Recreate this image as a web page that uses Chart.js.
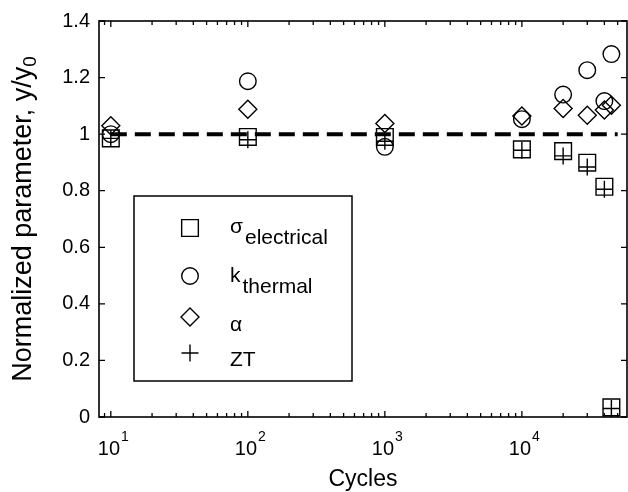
<!DOCTYPE html>
<html>
<head>
<meta charset="utf-8">
<script src="https://cdn.jsdelivr.net/npm/chart.js@4"></script>
<style>
  html, body { margin: 0; padding: 0; background: #fff; }
  canvas { display: block; }
</style>
</head>
<body>
<canvas id="chart" width="628" height="492"></canvas>
<script>
// values
const cycles = [10, 100, 1000, 10000, 20000, 30000, 40000, 45000];
const sigmaElectrical = [0.985, 0.99, 0.99, 0.946, 0.94, 0.899, 0.814, 0.034];
const kThermal = [1.0, 1.187, 0.955, 1.053, 1.14, 1.226, 1.117, 1.283];
const alphaSeebeck = [1.03, 1.088, 1.038, 1.064, 1.091, 1.067, 1.085, 1.102];
const ztValues = [0.985, 0.98, 0.975, 0.943, 0.923, 0.884, 0.805, 0.03];

const refLineX = [10, 50000];
const refLineY = [1, 1];

const yTickValues = [0, 0.2, 0.4, 0.6, 0.8, 1, 1.2, 1.4];
const xTickExponents = [1, 2, 3, 4];
const xTitle = "Cycles";
const yTitle = "Normalized parameter, y/y";
const yTitleSub = "0";
const legendMain = ["σ", "k", "α", "ZT"];
const legendSub = ["electrical", "thermal", "", ""];

const FONT = '"Liberation Sans", Arial, Helvetica, sans-serif';
const ctx = document.getElementById("chart");

function points(ys) {
  return cycles.map((c, i) => ({ x: c, y: ys[i] }));
}

const markerBase = {
  showLine: false,
  borderColor: "#000",
  backgroundColor: "rgba(0,0,0,0)",
  pointBorderWidth: 1.4,
  pointHoverRadius: 0,
};

const markers = [
  { pointStyle: "rect", pointRadius: 11.8 },
  { pointStyle: "circle", pointRadius: 8.3 },
  { pointStyle: "rectRot", pointRadius: 9 },
  { pointStyle: "cross", pointRadius: 8.5 },
];

// inner tick marks on every side, box, custom labels and legend
const decorations = {
  id: "decorations",
  afterDraw(chart) {
    const c = chart.ctx;
    const a = chart.chartArea;
    const x = chart.scales.x;
    const y = chart.scales.y;
    c.save();
    c.strokeStyle = "#000";
    c.fillStyle = "#000";

    // x ticks (log, with minor)
    c.lineWidth = 1.3;
    for (let d = 0; d <= 4; d++) {
      for (let m = 1; m <= 9; m++) {
        const v = m * Math.pow(10, d);
        if (v <= x.min || v >= x.max) continue;
        const px = x.getPixelForValue(v);
        const len = m === 1 ? 6 : 4;
        c.beginPath();
        c.moveTo(px, a.bottom);
        c.lineTo(px, a.bottom - len);
        c.moveTo(px, a.top);
        c.lineTo(px, a.top + len);
        c.stroke();
      }
    }
    // y ticks
    yTickValues.forEach(v => {
      const py = y.getPixelForValue(v);
      c.beginPath();
      c.moveTo(a.left, py);
      c.lineTo(a.left + 6, py);
      c.moveTo(a.right, py);
      c.lineTo(a.right - 6, py);
      c.stroke();
    });

    // box
    c.lineWidth = 1.6;
    c.strokeRect(a.left, a.top, a.right - a.left, a.bottom - a.top);

    // x tick labels 10^n
    xTickExponents.forEach(e => {
      const px = x.getPixelForValue(Math.pow(10, e));
      c.font = "20px " + FONT;
      const w1 = c.measureText("10").width;
      c.font = "14px " + FONT;
      const w2 = c.measureText(String(e)).width;
      const left = px + 2 - (w1 + w2) / 2;
      c.textAlign = "left";
      c.textBaseline = "alphabetic";
      c.font = "20px " + FONT;
      c.fillText("10", left, 455);
      c.font = "14px " + FONT;
      c.fillText(String(e), left + w1 + 1, 441);
    });

    // x title
    c.font = "23px " + FONT;
    c.textAlign = "center";
    c.fillText(xTitle, (a.left + a.right) / 2, 486);

    // y title, rotated
    c.save();
    c.translate(31, (a.top + a.bottom) / 2);
    c.rotate(-Math.PI / 2);
    c.font = "27px " + FONT;
    const wt = c.measureText(yTitle).width;
    c.font = "19px " + FONT;
    const ws = c.measureText(yTitleSub).width;
    const start = -(wt + ws) / 2;
    c.textAlign = "left";
    c.font = "27px " + FONT;
    c.fillText(yTitle, start, 0);
    c.font = "19px " + FONT;
    c.fillText(yTitleSub, start + wt, 5);
    c.restore();

    // legend
    const lx = 134, ly = 196, lw = 218, lh = 185;
    c.fillStyle = "#fff";
    c.fillRect(lx, ly, lw, lh);
    c.lineWidth = 1.5;
    c.strokeStyle = "#000";
    c.strokeRect(lx, ly, lw, lh);
    const rowY = [228, 276, 317, 353];
    const mainBase = [233, 282, 331, 366];
    const subBase = [244, 293, 0, 0];
    legendMain.forEach((txt, i) => {
      const ds = chart.data.datasets[i + 1];
      c.lineWidth = ds.pointBorderWidth;
      c.strokeStyle = "#000";
      c.fillStyle = "rgba(0,0,0,0)";
      Chart.helpers.drawPoint(c, { pointStyle: ds.pointStyle, radius: ds.pointRadius, borderWidth: ds.pointBorderWidth, rotation: 0 }, 190, rowY[i]);
      c.fillStyle = "#000";
      c.textAlign = "left";
      c.font = "21px " + FONT;
      c.fillText(txt, 230, mainBase[i]);
      if (legendSub[i]) {
        const w = c.measureText(txt).width;
        c.fillText(legendSub[i], 230 + w + 2, subBase[i]);
      }
    });
    c.restore();
  },
};

const chart = new Chart(ctx, {
  type: "scatter",
  data: {
    datasets: [
      {
        label: "reference",
        data: refLineX.map((v, i) => ({ x: v, y: refLineY[i] })),
        showLine: true,
        borderColor: "#000",
        borderWidth: 4,
        borderDash: [16, 8],
        pointRadius: 0,
        fill: false,
        order: 5,
      },
      { label: "σ electrical", data: points(sigmaElectrical), ...markerBase, ...markers[0] },
      { label: "k thermal", data: points(kThermal), ...markerBase, ...markers[1] },
      { label: "α", data: points(alphaSeebeck), ...markerBase, ...markers[2] },
      { label: "ZT", data: points(ztValues), ...markerBase, ...markers[3] },
    ],
  },
  options: {
    responsive: false,
    animation: false,
    devicePixelRatio: 1,
    layout: { autoPadding: false, padding: { top: 21, right: 1, left: 0, bottom: 0 } },
    plugins: { legend: { display: false }, tooltip: { enabled: false } },
    scales: {
      x: {
        type: "logarithmic",
        min: 8.2,
        max: 58500,
        ticks: { display: false },
        grid: { display: false, drawTicks: false },
        border: { display: false },
        afterFit(scale) { scale.height = 75; },
      },
      y: {
        min: 0,
        max: 1.4,
        afterBuildTicks(scale) {
          scale.ticks = yTickValues.map(v => ({ value: v }));
        },
        ticks: {
          color: "#000",
          padding: 9,
          font: { family: FONT, size: 20 },
          callback: v => String(v),
        },
        grid: { display: false, drawTicks: false },
        border: { display: false },
        afterFit(scale) { scale.width = 99; },
      },
    },
  },
  plugins: [decorations],
});
</script>
</body>
</html>
